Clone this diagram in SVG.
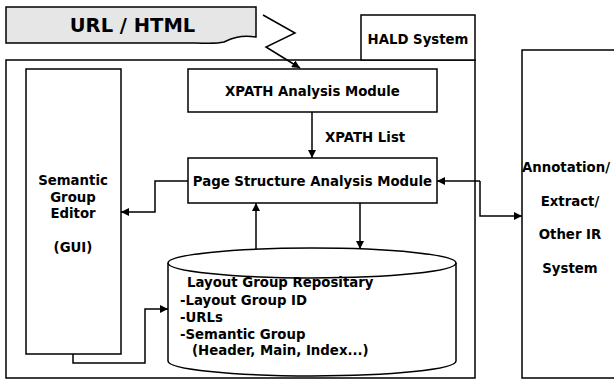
<svg xmlns="http://www.w3.org/2000/svg" width="614" height="380" viewBox="0 0 614 380">
<defs>
<style>
.box{fill:#fff;stroke:#000;stroke-width:1.5}
.ln{fill:none;stroke:#000;stroke-width:1.5}
.t{font-family:"DejaVu Sans",Verdana,sans-serif;font-weight:bold;font-size:13.3px;fill:#000}
.c{text-anchor:middle}
</style>
<marker id="ah" viewBox="0 0 10 10" refX="10" refY="5" markerWidth="8" markerHeight="8" markerUnits="userSpaceOnUse" orient="auto">
<path d="M0,0 L10,5 L0,10 Z" fill="#000"/>
</marker>
</defs>
<rect width="614" height="380" fill="#fff"/>
<g id="hald-system">
<rect class="box" x="6" y="60" width="469" height="318"/>
<rect class="box" x="361" y="15" width="114" height="45"/>
<text class="t c" x="418" y="44">HALD System</text>
</g>
<g id="url-html">
<path class="box" style="fill:#e6e6e6" d="M6,7 H256 V37 C240,35 232,38 224,42 C215,44 205,43 195,43 H6 Z"/>
<text class="t c" style="font-size:19.5px" x="132.5" y="32">URL / HTML</text>
</g>
<g id="annotation">
<rect class="box" x="522" y="50" width="110" height="328"/>
<text class="t c" x="566" y="172">Annotation/</text>
<text class="t c" x="570" y="206">Extract/</text>
<text class="t c" x="570" y="239">Other IR</text>
<text class="t c" x="570" y="273">System</text>
</g>
<g id="editor">
<rect class="box" x="26" y="69" width="95" height="285"/>
<text class="t c" x="73" y="185">Semantic</text>
<text class="t c" x="73" y="202">Group</text>
<text class="t c" x="73" y="218">Editor</text>
<text class="t c" x="73" y="252">(GUI)</text>
</g>
<g id="xpath-module">
<rect class="box" x="188" y="69" width="249" height="43"/>
<text class="t c" x="312.5" y="95.5">XPATH Analysis Module</text>
</g>
<g id="page-structure">
<rect class="box" x="188" y="158" width="249" height="45"/>
<text class="t c" x="312.5" y="185.5">Page Structure Analysis Module</text>
</g>
<g id="repository">
<path class="box" d="M168,263 A144,15 0 0 1 456,263 V361 A144,15 0 0 1 168,361 Z"/>
<path class="ln" d="M168,263 A144,15 0 0 0 456,263"/>
<text class="t" x="187" y="287">Layout Group Repositary</text>
<text class="t" x="180" y="305">-Layout Group ID</text>
<text class="t" x="180" y="322">-URLs</text>
<text class="t" x="180" y="339">-Semantic Group</text>
<text class="t" x="192" y="355">(Header, Main, Index...)</text>
</g>
<g id="connectors">
<polyline class="ln" points="263,15 295,33 266,47 300,68" marker-end="url(#ah)"/>
<line class="ln" x1="312" y1="112" x2="312" y2="158" marker-end="url(#ah)"/>
<text class="t" x="325" y="142">XPATH List</text>
<polyline class="ln" points="188,181 155,181 155,212 121,212" marker-end="url(#ah)"/>
<line class="ln" x1="256" y1="249" x2="256" y2="203" marker-end="url(#ah)"/>
<line class="ln" x1="360" y1="203" x2="360" y2="249" marker-end="url(#ah)"/>
<polyline class="ln" points="480,181 480,216 522,216" marker-end="url(#ah)"/>
<line class="ln" x1="480" y1="181" x2="437" y2="181" marker-end="url(#ah)"/>
<polyline class="ln" points="73,354 73,363 145,363 145,309 168,309" marker-end="url(#ah)"/>
</g>
</svg>
